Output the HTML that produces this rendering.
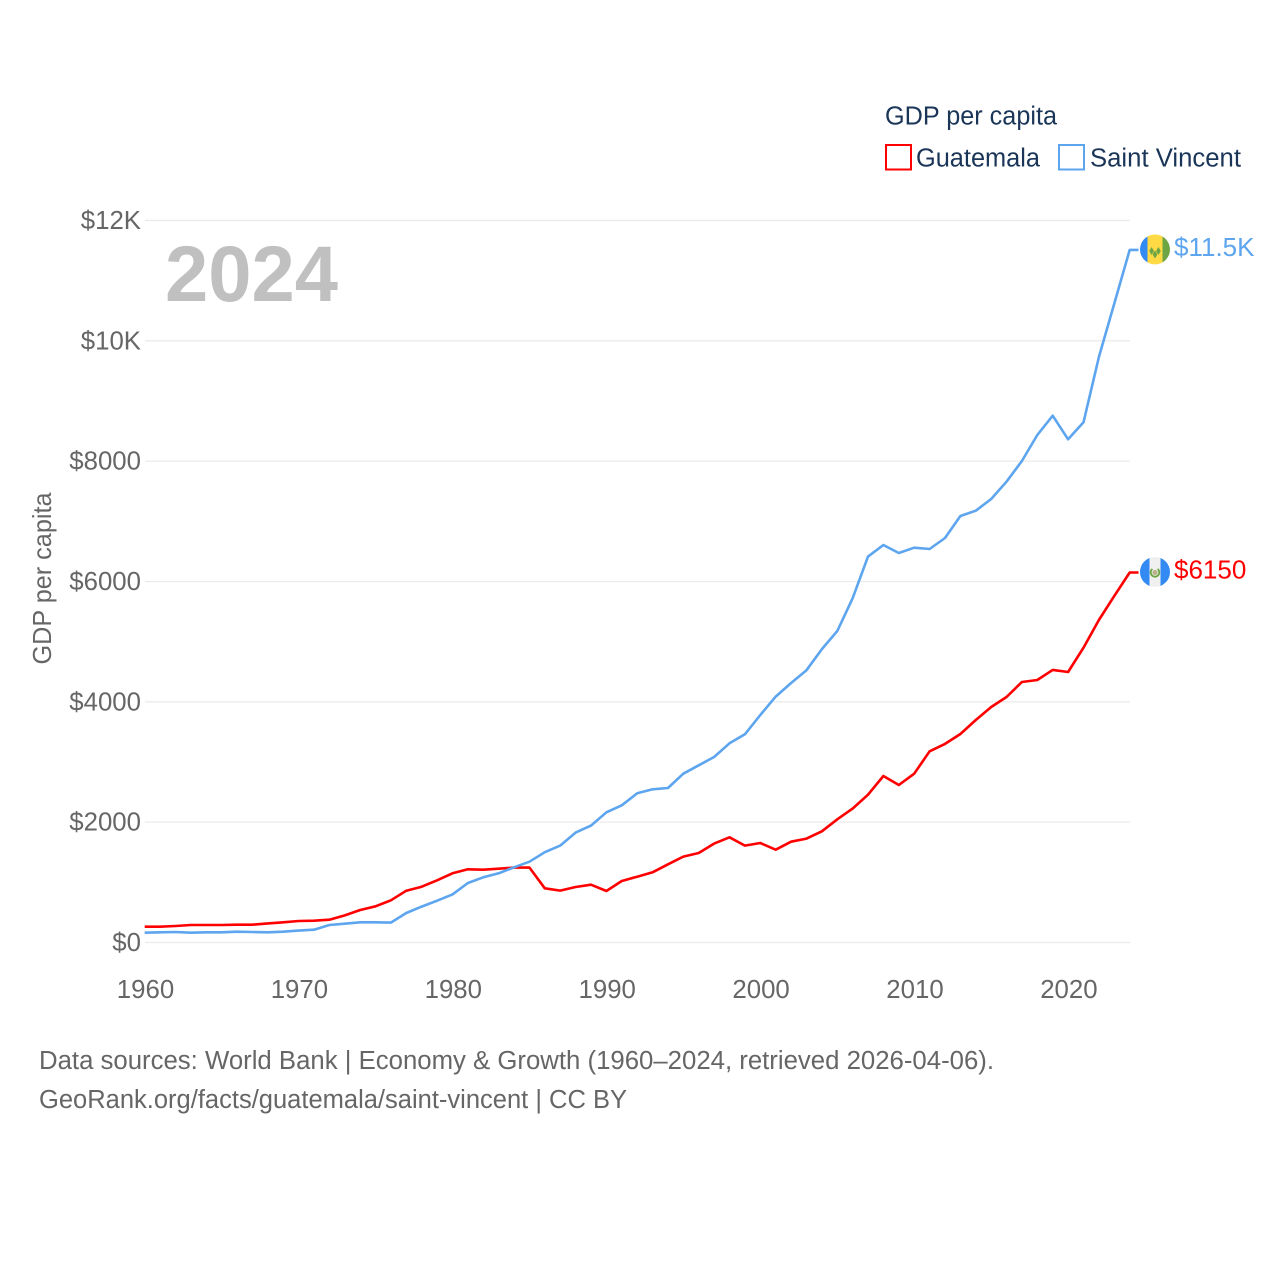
<!DOCTYPE html>
<html lang="en">
<head>
<meta charset="utf-8">
<title>GDP per capita: Guatemala and Saint Vincent</title>
<style>
html,body{margin:0;padding:0;background:#fff;width:1280px;height:1280px;overflow:hidden}
svg{display:block}
text{font-family:"Liberation Sans",sans-serif}
.tick{font-size:25.8px;fill:#666}
.foot{font-size:25.5px;fill:#666}
.leg{font-size:25.5px;fill:#1a3557}
</style>
</head>
<body>
<svg id="chart" xmlns="http://www.w3.org/2000/svg" width="1280" height="1280" viewBox="0 0 1280 1280">
  <g id="grid"></g>
  <g id="yticks"></g>
  <g id="xticks"></g>
  <text x="165" y="301" font-size="79" font-weight="700" fill="#c0c0c0" textLength="173" lengthAdjust="spacingAndGlyphs">2024</text>
  <text class="tick" transform="translate(51,578.5) rotate(-90)" text-anchor="middle" textLength="172" lengthAdjust="spacingAndGlyphs">GDP per capita</text>
  <g id="series"></g>
  <g id="flags"></g>
  <g>
    <text class="leg" x="885" y="124.5" textLength="172" lengthAdjust="spacingAndGlyphs">GDP per capita</text>
    <rect x="886" y="145" width="25" height="24.5" fill="#fff" stroke="#ff0000" stroke-width="2"/>
    <text class="leg" x="916" y="166.5" textLength="124" lengthAdjust="spacingAndGlyphs">Guatemala</text>
    <rect x="1059" y="145" width="25" height="24.5" fill="#fff" stroke="#5da5ee" stroke-width="2"/>
    <text class="leg" x="1090" y="166.5" textLength="151" lengthAdjust="spacingAndGlyphs">Saint Vincent</text>
  </g>
  <text class="foot" x="39" y="1069" textLength="955" lengthAdjust="spacingAndGlyphs">Data sources: World Bank | Economy &amp; Growth (1960–2024, retrieved 2026-04-06).</text>
  <text class="foot" x="39" y="1108" textLength="588" lengthAdjust="spacingAndGlyphs">GeoRank.org/facts/guatemala/saint-vincent | CC BY</text>
</svg>
<script>
const startYear = 1960;
const xTickYears = [1960, 1970, 1980, 1990, 2000, 2010, 2020];
const yTickValues = [0, 2000, 4000, 6000, 8000, 10000, 12000];
const yTickLabels = ["$0", "$2000", "$4000", "$6000", "$8000", "$10K", "$12K"];
const guatemalaValues = [263,263,274,291,291,291,296,296,318,335,357,363,379,451,540,601,701,861,928,1033,1150,1216,1210,1227,1244,1244,901,862,923,961,856,1022,1094,1166,1299,1427,1488,1643,1748,1610,1654,1543,1676,1726,1848,2047,2225,2457,2767,2618,2806,3177,3300,3465,3698,3914,4080,4330,4363,4530,4495,4900,5360,5760,6150];
const saintVincentValues = [163,169,174,163,169,169,180,174,169,180,197,213,291,313,335,335,330,490,596,695,800,989,1083,1150,1249,1343,1500,1610,1826,1942,2164,2280,2479,2546,2568,2806,2945,3083,3310,3460,3781,4086,4313,4525,4876,5177,5720,6413,6607,6474,6562,6540,6723,7089,7177,7371,7659,8003,8435,8756,8363,8645,9730,10620,11510];
const guatemalaLabel = "$6150";
const saintVincentLabel = "$11.5K";

const NS = "http://www.w3.org/2000/svg";
const X0 = 144.7, X_PER_YEAR = 15.39, Y0 = 942.5, Y_PER_UNIT = 0.06017;
const plotRight = 1130, stubRight = 1138.5;
function xScale(year) { return X0 + (year - startYear) * X_PER_YEAR; }
function yScale(value) { return Y0 - value * Y_PER_UNIT; }
function make(tag, attrs, parent) {
  const el = document.createElementNS(NS, tag);
  for (const k in attrs) el.setAttribute(k, attrs[k]);
  parent.appendChild(el);
  return el;
}

const gridG = document.getElementById("grid");
const yG = document.getElementById("yticks");
yTickValues.forEach(function (v, i) {
  const line = make("line", { x1: 145, x2: plotRight, y1: yScale(v), y2: yScale(v), stroke: "#ebebeb", "stroke-width": 1.3 }, gridG);
  
  
  const t = make("text", { x: 141, y: yScale(v) + 8.5, "text-anchor": "end", class: "tick" }, yG);
  t.textContent = yTickLabels[i];
  
  
});

const xG = document.getElementById("xticks");
xTickYears.forEach(function (yr) {
  const t = make("text", { x: xScale(yr) + 0.8, y: 998, "text-anchor": "middle", class: "tick" }, xG);
  t.textContent = yr;
  
  
});

function seriesPoints(values) {
  const pts = values.map(function (v, i) { return xScale(startYear + i).toFixed(1) + "," + yScale(v).toFixed(1); });
  pts.push(stubRight + "," + yScale(values[values.length - 1]).toFixed(1));
  return pts.join(" ");
}
const sG = document.getElementById("series");
const redLine = make("polyline", { points: seriesPoints(guatemalaValues), fill: "none", stroke: "#ff0000", "stroke-width": 2.6, "stroke-linejoin": "round" }, sG);


const blueLine = make("polyline", { points: seriesPoints(saintVincentValues), fill: "none", stroke: "#5da5ee", "stroke-width": 2.6, "stroke-linejoin": "round" }, sG);



const fG = document.getElementById("flags");
const cx = 1155;
function flagGroup(cy, id) {
  const g = make("g", {}, fG);
  const clip = make("clipPath", { id: id }, g);
  make("circle", { cx: cx, cy: cy, r: 15 }, clip);
  const inner = make("g", { "clip-path": "url(#" + id + ")" }, g);
  return inner;
}
// Saint Vincent flag
const svCy = yScale(saintVincentValues[saintVincentValues.length - 1]) - 0.5;
const svFlag = flagGroup(svCy, "clip-sv");


make("rect", { x: cx - 15, y: svCy - 15, width: 7.5, height: 30, fill: "#338af3" }, svFlag);
make("rect", { x: cx - 7.5, y: svCy - 15, width: 15, height: 30, fill: "#ffda44" }, svFlag);
make("rect", { x: cx + 7.5, y: svCy - 15, width: 7.5, height: 30, fill: "#6da544" }, svFlag);
[[-3.4, 1.5], [3.4, 1.5], [0, 5]].forEach(function (o) {
  const dx = o[0], dy = o[1];
  make("polygon", { points: [cx + dx, svCy + dy - 4, cx + dx + 2.4, svCy + dy, cx + dx, svCy + dy + 4, cx + dx - 2.4, svCy + dy].join(","), fill: "#6da544" }, svFlag);
});
// Guatemala flag
const gtCy = yScale(guatemalaValues[guatemalaValues.length - 1]) - 0.5;
const gtFlag = flagGroup(gtCy, "clip-gt");


make("rect", { x: cx - 15, y: gtCy - 15, width: 30, height: 30, fill: "#f0f0f0" }, gtFlag);
make("rect", { x: cx - 15, y: gtCy - 15, width: 9.5, height: 30, fill: "#338af3" }, gtFlag);
make("rect", { x: cx + 5.5, y: gtCy - 15, width: 9.5, height: 30, fill: "#338af3" }, gtFlag);
make("circle", { cx: cx, cy: gtCy + 0.5, r: 2.6, fill: "#b9b08a" }, gtFlag);
make("path", { d: "M" + (cx - 2.6) + " " + (gtCy - 3) + "A4.3 4.3 0 1 0 " + (cx + 2.6) + " " + (gtCy - 3), fill: "none", stroke: "#6da544", "stroke-width": 1.8 }, gtFlag);

const labelG = make("g", {}, fG);
const svText = make("text", { x: 1174, y: svCy + 6.5, fill: "#5da5ee", "font-size": 26 }, labelG);
svText.textContent = saintVincentLabel;


const gtText = make("text", { x: 1174, y: gtCy + 6.5, fill: "#ff0000", "font-size": 26 }, labelG);
gtText.textContent = guatemalaLabel;


</script>
</body>
</html>
